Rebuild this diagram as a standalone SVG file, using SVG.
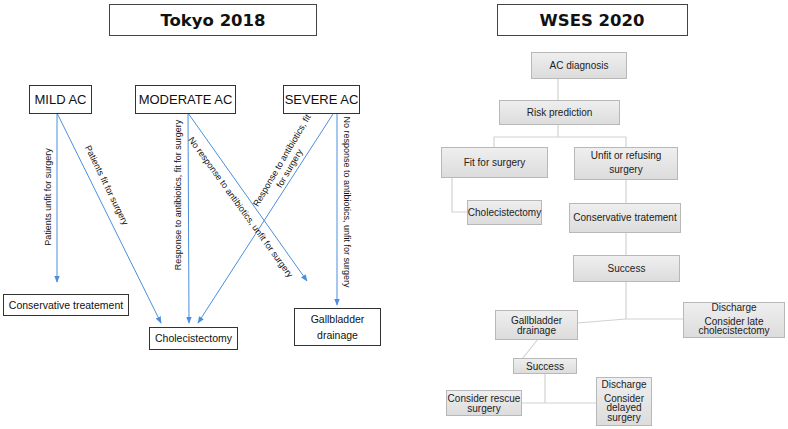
<svg xmlns="http://www.w3.org/2000/svg" width="788" height="429" viewBox="0 0 788 429">
<defs>
<marker id="ah" viewBox="0 0 10 10" refX="9" refY="5" markerWidth="7" markerHeight="7" orient="auto" markerUnits="userSpaceOnUse">
<path d="M0,1 L10,5 L0,9 z" fill="#4a8fdc"/>
</marker>
<linearGradient id="g" x1="0" y1="0" x2="0" y2="1">
<stop offset="0" stop-color="#efefef"/>
<stop offset="1" stop-color="#dcdcdc"/>
</linearGradient>
<style>
.title{font-family:"DejaVu Sans",sans-serif;font-weight:bold;font-size:16.5px;text-anchor:middle;fill:#111}
.tbox{fill:#fff;stroke:#444;stroke-width:1}
.lbox{fill:#fff;stroke:#333;stroke-width:1}
.ln{font-family:"Liberation Sans",Arial,sans-serif;font-size:13px;text-anchor:middle;fill:#111}
.ls{font-family:"Liberation Sans",Arial,sans-serif;font-size:10.5px;text-anchor:middle;fill:#111}
.lab{font-family:"Liberation Sans",Arial,sans-serif;font-size:9px;text-anchor:middle;fill:#111}
.arr{stroke:#4a8fdc;stroke-width:1;fill:none;marker-end:url(#ah)}
.gbox{fill:url(#g);stroke:#b8b8b8;stroke-width:1}
.gt{font-family:"Liberation Sans",Arial,sans-serif;font-size:10px;text-anchor:middle;fill:#222}
.con{stroke:#d2d2d2;stroke-width:1.2;fill:none}
</style>
</defs>

<g id="title-tokyo"><rect class="tbox" x="109.5" y="4.5" width="207" height="31"/><text class="title" x="213" y="26">Tokyo 2018</text></g>
<g id="title-wses"><rect class="tbox" x="497.5" y="4.5" width="190" height="31"/><text class="title" x="592" y="26">WSES 2020</text></g>

<g id="connectors">
<g id="tokyo-arrows">
<line class="arr" x1="57" y1="113" x2="57" y2="282"/>
<line class="arr" x1="57" y1="113" x2="161" y2="323"/>
<line class="arr" x1="188" y1="113" x2="189" y2="323"/>
<line class="arr" x1="188" y1="113" x2="307" y2="281"/>
<line class="arr" x1="333" y1="114" x2="198" y2="323"/>
<line class="arr" x1="337" y1="114" x2="337" y2="305"/>
</g>
<g id="tokyo-labels">
<text class="lab" transform="translate(50.5,197) rotate(-90)">Patients unfit for surgery</text>
<text class="lab" transform="translate(104,186.5) rotate(64)">Patients fit for surgery</text>
<text class="lab" transform="translate(180.5,195) rotate(-90)">Response to antibiotics, fit for surgery</text>
<text class="lab" transform="translate(238.3,209) rotate(54)">No response to antibiotics, unfit for surgery</text>
<text class="lab" transform="translate(284.5,162) rotate(-59.6)"><tspan x="0" y="0">Response to antibiotics, fit</tspan><tspan x="-3" y="10.5">for surgery</tspan></text>
<text class="lab" transform="translate(343.5,202) rotate(90)">No response to antibiotics, unfit for surgery</text>
</g>
<g id="wses-lines">
<line class="con" x1="558" y1="78" x2="558" y2="100"/>
<polyline class="con" points="558,124 558,137"/>
<polyline class="con" points="494,147 494,137 626,137 626,147"/>
<polyline class="con" points="452,177 452,212 467,212"/>
<line class="con" x1="626" y1="179" x2="626" y2="203"/>
<line class="con" x1="626" y1="232" x2="626" y2="255"/>
<polyline class="con" points="626,281 626,319 683,319"/>
<polyline class="con" points="577,323 626,319"/>
<line class="con" x1="538" y1="339" x2="515" y2="368"/>
<polyline class="con" points="545,373 545,403"/>
<line class="con" x1="521" y1="403" x2="596" y2="403"/>
</g>
</g>

<g id="mild"><rect class="lbox" x="29.5" y="85.5" width="62" height="28"/><text class="ln" x="60.5" y="104">MILD AC</text></g>
<g id="moderate"><rect class="lbox" x="135.5" y="85.5" width="100" height="28"/><text class="ln" x="185.5" y="104">MODERATE AC</text></g>
<g id="severe"><rect class="lbox" x="283.5" y="85.5" width="76" height="28"/><text class="ln" x="321.5" y="104">SEVERE AC</text></g>
<g id="conservative"><rect class="lbox" x="3.5" y="294.5" width="125" height="21"/><text class="ls" x="66" y="308.5">Conservative treatement</text></g>
<g id="cholecistectomy"><rect class="lbox" x="149.5" y="327.5" width="88" height="22"/><text class="ls" x="193.5" y="342">Cholecistectomy</text></g>
<g id="gallbladder"><rect class="lbox" x="294.5" y="308.5" width="86" height="37"/><text class="ls" x="337.5" y="323">Gallbladder</text><text class="ls" x="337.5" y="339">drainage</text></g>

<g id="w-diagnosis"><rect class="gbox" x="531.5" y="52.5" width="95" height="26"/><text class="gt" x="579" y="68.5">AC diagnosis</text></g>
<g id="w-risk"><rect class="gbox" x="499.5" y="100.5" width="120" height="24"/><text class="gt" x="559.5" y="116">Risk prediction</text></g>
<g id="w-fit"><rect class="gbox" x="441.5" y="147.5" width="106" height="30"/><text class="gt" x="494.5" y="166">Fit for surgery</text></g>
<g id="w-unfit"><rect class="gbox" x="574.5" y="147.5" width="103" height="32"/><text class="gt" x="626" y="159">Unfit or refusing</text><text class="gt" x="626" y="172.5">surgery</text></g>
<g id="w-chole"><rect class="gbox" x="467.5" y="200.5" width="74" height="24"/><text class="gt" x="504.5" y="216">Cholecistectomy</text></g>
<g id="w-conservative"><rect class="gbox" x="569.5" y="203.5" width="111" height="29"/><text class="gt" x="625" y="221">Conservative tratement</text></g>
<g id="w-success1"><rect class="gbox" x="573.5" y="255.5" width="106" height="26"/><text class="gt" x="626.5" y="272">Success</text></g>
<g id="w-gallbladder"><rect class="gbox" x="495.5" y="310.5" width="82" height="29"/><text class="gt" x="536.5" y="323.5">Gallbladder</text><text class="gt" x="536.5" y="333.5">drainage</text></g>
<g id="w-discharge1"><rect class="gbox" x="683.5" y="302.5" width="101" height="35"/><text class="gt" x="734" y="311">Discharge</text><text class="gt" x="734" y="324.5">Consider late</text><text class="gt" x="734" y="334">cholecistectomy</text></g>
<g id="w-success2"><rect class="gbox" x="513.5" y="358.5" width="63" height="15"/><text class="gt" x="545" y="369.5">Success</text></g>
<g id="w-rescue"><rect class="gbox" x="446.5" y="390.5" width="75" height="25"/><text class="gt" x="484" y="401.5">Consider rescue</text><text class="gt" x="484" y="411.5">surgery</text></g>
<g id="w-discharge2"><rect class="gbox" x="596.5" y="377.5" width="55" height="48"/><text class="gt" x="624" y="388">Discharge</text><text class="gt" x="624" y="401.5">Consider</text><text class="gt" x="624" y="411">delayed</text><text class="gt" x="624" y="420.5">surgery</text></g>
</svg>
